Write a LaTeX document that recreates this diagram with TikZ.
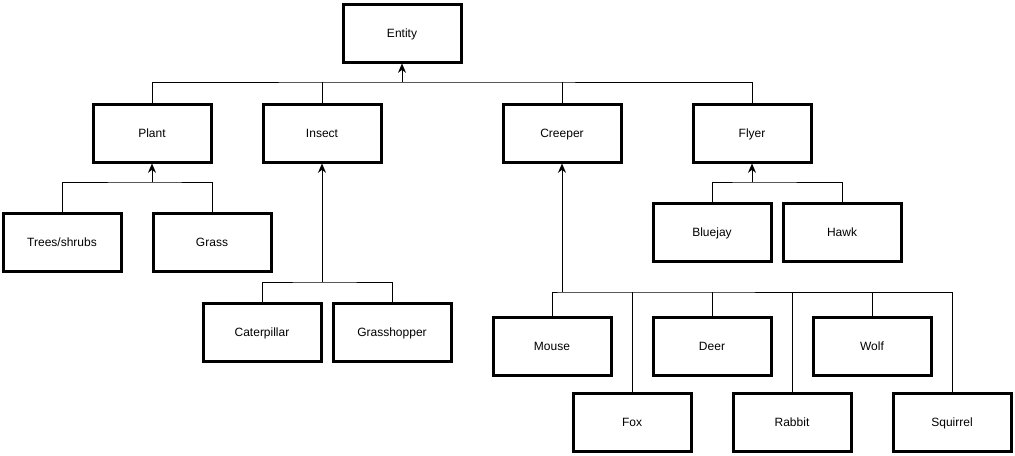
\documentclass[tikz,border=0pt]{standalone}
\usepackage{fontspec}
\setmainfont{Liberation Sans}
\usetikzlibrary{arrows.meta}

\tikzset{every picture/.style={line width=0.75pt}}
\tikzset{
  box/.style={draw, line width=2.25pt, minimum width=88.5pt, minimum height=43.5pt, inner sep=0pt, text height=7.6pt, text depth=1pt, font=\fontsize{9}{11}\selectfont},
  bus/.style={line width=0.75pt},
  up/.style={line width=0.75pt, -{Stealth[length=7pt,width=6pt]}}
}

\begin{document}
\begin{tikzpicture}[x=0.75pt,y=0.75pt,yscale=-1,xscale=1]
\useasboundingbox (0,0) rectangle (1015,455);

%Root
\node [box] (entity) at (402,33) {Entity};

%Level 1
\node [box] (plant) at (152,133) {Plant};
\node [box] (insect) at (322,133) {Insect};
\node [box] (creeper) at (562,133) {Creeper};
\node [box] (flyer) at (752,133) {Flyer};

%Level 2
\node [box] (trees) at (62,242) {Trees/shrubs};
\node [box] (grass) at (212,242) {Grass};
\node [box] (caterpillar) at (262,332) {Caterpillar};
\node [box] (grasshopper) at (392,332) {Grasshopper};
\node [box] (bluejay) at (712,232) {Bluejay};
\node [box] (hawk) at (842,232) {Hawk};
\node [box] (mouse) at (552,346) {Mouse};
\node [box] (deer) at (712,346) {Deer};
\node [box] (wolf) at (872,346) {Wolf};
\node [box] (fox) at (632,422) {Fox};
\node [box] (rabbit) at (792,422) {Rabbit};
\node [box] (squirrel) at (952,422) {Squirrel};

%Bus junctions
\coordinate (jentity) at (402,82);
\coordinate (jplant) at (152,182);
\coordinate (jinsect) at (322,282);
\coordinate (jcreeper) at (562,292);
\coordinate (jflyer) at (752,182);

%Entity
\draw [bus] (plant.north) |- (jentity) -| (flyer.north);
\draw [bus] (insect.north) -- (insect.north |- jentity);
\draw [bus] (creeper.north) -- (creeper.north |- jentity);
\draw [up] (jentity) -- (entity.south);

%Plant
\draw [bus] (trees.north) |- (jplant) -| (grass.north);
\draw [up] (jplant) -- (plant.south);

%Insect
\draw [bus] (caterpillar.north) |- (jinsect) -| (grasshopper.north);
\draw [up] (jinsect) -- (insect.south);

%Creeper
\draw [bus] (mouse.north) |- (jcreeper) -| (squirrel.north);
\draw [bus] (fox.north) -- (fox.north |- jcreeper);
\draw [bus] (deer.north) -- (deer.north |- jcreeper);
\draw [bus] (rabbit.north) -- (rabbit.north |- jcreeper);
\draw [bus] (wolf.north) -- (wolf.north |- jcreeper);
\draw [up] (jcreeper) -- (creeper.south);

%Flyer
\draw [bus] (bluejay.north) |- (jflyer) -| (hawk.north);
\draw [up] (jflyer) -- (flyer.south);

\end{tikzpicture}
\end{document}
